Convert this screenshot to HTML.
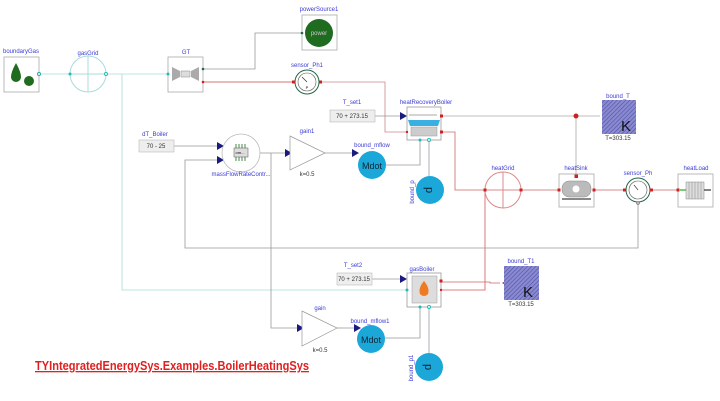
<!DOCTYPE html>
<html><head><meta charset="utf-8"><style>
html,body{margin:0;padding:0;background:#fff;width:720px;height:401px;overflow:hidden}
svg{display:block}
text{font-family:"Liberation Sans",sans-serif}
.lbl{fill:#3b3bd6;font-size:6px;text-anchor:middle}
.sm{fill:#333;font-size:6px;text-anchor:middle}
</style></head><body>
<svg width="720" height="401" viewBox="0 0 720 401" xmlns="http://www.w3.org/2000/svg">
<defs>
<pattern id="h" width="3" height="3" patternUnits="userSpaceOnUse" patternTransform="rotate(45)">
<rect width="3" height="3" fill="#8a8ad0"/><line x1="0" y1="0" x2="0" y2="3" stroke="#5050a8" stroke-width="1.2"/></pattern>
</defs>
<g fill="none" stroke-width="0.8">
<polyline stroke="#a8dcd8" points="39,74 168,74"/>
<polyline stroke="#a8dcd8" points="122,74 122,290 407,290"/>
<polyline stroke="#999" points="203,69 255,69 255,33 302,33"/>
<polyline stroke="#c44" points="203,82 295,82"/>
<polyline stroke="#c88" points="319,82 385,82 385,132 407,132"/>
<polyline stroke="#999" points="375,116 400,116"/>
<polyline stroke="#aaa" points="441,116 600,116"/>
<polyline stroke="#aaa" points="576,116 576,176"/>
<polyline stroke="#c66" points="441,132 455,132 455,190 485,190"/>
<polyline stroke="#c66" points="521,190 559,190"/>
<polyline stroke="#c66" points="594,190 626,190"/>
<polyline stroke="#c66" points="650,190 678,190"/>
<polyline stroke="#d55" points="485,190 485,290 441,290"/>
<polyline stroke="#c66" points="441,282 490,282 490,283 500,283"/>
<polyline stroke="#999" points="638,202 638,248 185,248 185,160 217,160"/>
<polyline stroke="#999" points="174,146 217,146"/>
<polyline stroke="#999" points="260,153 285,153"/>
<polyline stroke="#999" points="271,153 271,328 300,328"/>
<polyline stroke="#999" points="325,153 352,153"/>
<polyline stroke="#999" points="337,328 354,328"/>
<polyline stroke="#999" points="386,165 420,165 420,140"/>
<polyline stroke="#99a" points="429,140 429,176"/>
<polyline stroke="#999" points="372,279 400,279"/>
<polyline stroke="#999" points="385,338 420,338 420,307"/>
<polyline stroke="#99a" points="429,307 429,353"/>
</g>
<g fill="#1a1a80">
<polygon points="217,142 224,146 217,150"/><polygon points="217,156 224,160 217,164"/>
<polygon points="285,149 292,153 285,157"/><polygon points="352,149 359,153 352,157"/>
<polygon points="400,112 407,116 400,120"/><polygon points="400,275 407,279 400,283"/>
<polygon points="297,324 304,328 297,332"/><polygon points="354,324 361,328 354,332"/>
</g>
<polygon points="604,116 611,112 611,120" fill="#c22"/>
<polygon points="502,283 509,279 509,287" fill="#c22"/>
<text class="lbl" x="21" y="53">boundaryGas</text>
<rect x="4" y="57" width="35" height="35" fill="#fff" stroke="#aaa" stroke-width="0.8"/>
<path d="M16,63 Q11,72 11,77 A5,5 0 0 0 21,77 Q21,72 16,63Z" fill="#1f6b1f"/>
<circle cx="29" cy="81" r="5" fill="#1f6b1f"/>
<circle cx="39" cy="74" r="1.5" fill="#fff" stroke="#2aa"/>
<text class="lbl" x="88" y="55">gasGrid</text>
<circle cx="88" cy="74" r="18" fill="#fff" stroke="#a8dcd8"/>
<line x1="70" y1="74" x2="106" y2="74" stroke="#a8dcd8"/><line x1="88" y1="56" x2="88" y2="92" stroke="#a8dcd8"/>
<circle cx="70" cy="74" r="1.5" fill="#2bb"/><circle cx="106" cy="74" r="1.5" fill="#fff" stroke="#2bb"/>
<text class="lbl" x="186" y="54">GT</text>
<rect x="168" y="57" width="35" height="35" fill="#fff" stroke="#aaa" stroke-width="0.8"/>
<polygon points="172,67 180,71 180,77 172,81" fill="#aaa"/><polygon points="199,67 191,71 191,77 199,81" fill="#aaa"/>
<rect x="181" y="71" width="9" height="6" fill="#ddd" stroke="#888" stroke-width="0.5"/>
<circle cx="168" cy="74" r="1.5" fill="#2bb"/><circle cx="203" cy="69" r="1.3" fill="#265"/><circle cx="203" cy="82" r="1.3" fill="#c22"/>
<text class="lbl" x="319" y="11">powerSource1</text>
<rect x="302" y="15" width="35" height="35" fill="#fff" stroke="#aaa" stroke-width="0.8"/>
<circle cx="319" cy="33" r="14" fill="#1f6b1f"/>
<text x="319" y="35" fill="#ccc" font-size="6" text-anchor="middle">power</text>
<circle cx="302" cy="33" r="1.3" fill="#265"/>
<text class="lbl" x="307" y="67">sensor_Ph1</text>
<circle cx="307" cy="82" r="12" fill="#fff" stroke="#264" stroke-width="1"/>
<circle cx="307" cy="82" r="9" fill="#fff" stroke="#555" stroke-width="0.6"/>
<line x1="307" y1="82" x2="302" y2="77" stroke="#333" stroke-width="0.7"/>
<text x="307" y="89" font-size="4" text-anchor="middle">P</text>
<rect x="292" y="80.5" width="3" height="3" fill="#c22"/><rect x="319" y="80.5" width="3" height="3" fill="#c22"/>
<text class="lbl" x="352" y="104">T_set1</text>
<rect x="330" y="110" width="45" height="12" fill="#eee" stroke="#bbb" stroke-width="0.6"/>
<text class="sm" x="352" y="118">70 + 273.15</text>
<text class="lbl" x="426" y="104">heatRecoveryBoiler</text>
<rect x="407" y="107" width="34" height="33" fill="#fff" stroke="#999" stroke-width="0.8"/>
<line x1="409" y1="115" x2="437" y2="115" stroke="#555" stroke-width="0.5"/>
<path d="M408,120 L440,120 L438,126 L410,126Z" fill="#3ab0e0"/>
<rect x="411" y="127" width="26" height="9" fill="#ccc" stroke="#999" stroke-width="0.5"/>
<rect x="440" y="114.5" width="3" height="3" fill="#c22"/><rect x="440" y="130.5" width="3" height="3" fill="#c22"/>
<circle cx="407" cy="132" r="1.2" fill="#c22"/><circle cx="420" cy="140" r="1.5" fill="#2bb"/><circle cx="429" cy="140" r="1.5" fill="#fff" stroke="#2bb"/>
<text class="lbl" x="618" y="98">bound_T</text>
<rect x="602" y="100" width="34" height="34" fill="url(#h)"/>
<text x="626" y="131" font-size="15" fill="#111" text-anchor="middle">K</text>
<text class="sm" x="618" y="140">T=303.15</text>
<circle cx="576" cy="116" r="2.5" fill="#c22"/>
<text class="lbl" x="155" y="136">dT_Boiler</text>
<rect x="139" y="140" width="35" height="12" fill="#eee" stroke="#bbb" stroke-width="0.6"/>
<text class="sm" x="156" y="148">70 - 25</text>
<circle cx="241" cy="153" r="19" fill="#fff" stroke="#bbb" stroke-width="0.8"/>
<rect x="234" y="148" width="14" height="9" fill="#ddd" stroke="#555" stroke-width="0.5"/>
<g stroke="#1a6b1a" stroke-width="0.8"><line x1="236" y1="144" x2="236" y2="148"/><line x1="239" y1="144" x2="239" y2="148"/><line x1="242" y1="144" x2="242" y2="148"/><line x1="245" y1="144" x2="245" y2="148"/><line x1="236" y1="157" x2="236" y2="161"/><line x1="239" y1="157" x2="239" y2="161"/><line x1="242" y1="157" x2="242" y2="161"/><line x1="245" y1="157" x2="245" y2="161"/></g>
<text x="240" y="154" font-size="4" text-anchor="middle">om...</text>
<text class="lbl" x="241" y="176">massFlowRateContr...</text>
<text class="lbl" x="307" y="133">gain1</text>
<polygon points="290,136 325,153 290,170" fill="#fff" stroke="#999" stroke-width="0.7"/>
<text class="sm" x="307" y="176">k=0.5</text>
<text class="lbl" x="372" y="147">bound_mflow</text>
<circle cx="372" cy="165" r="14" fill="#1ba8d8"/><text x="372" y="169" font-size="9" text-anchor="middle" fill="#123">Mdot</text>
<circle cx="430" cy="190" r="14" fill="#1ba8d8"/><text x="430" y="194" font-size="11" text-anchor="middle" fill="#123" transform="rotate(90 430 190)">p</text>
<text class="lbl" x="0" y="0" transform="translate(414,192) rotate(-90)">bound_p</text>
<text class="lbl" x="503" y="170">heatGrid</text>
<circle cx="503" cy="190" r="18" fill="#fff" stroke="#d88"/>
<line x1="485" y1="190" x2="521" y2="190" stroke="#d88"/><line x1="503" y1="172" x2="503" y2="208" stroke="#d88"/>
<rect x="483.5" y="188.5" width="3" height="3" fill="#c22"/><rect x="519.5" y="188.5" width="3" height="3" fill="#c22"/>
<text class="lbl" x="576" y="170">heatSink</text>
<rect x="559" y="174" width="35" height="33" fill="#fff" stroke="#aaa" stroke-width="0.8"/>
<rect x="562" y="181" width="29" height="16" rx="7" fill="#bbb" stroke="#888" stroke-width="0.5"/>
<circle cx="576" cy="189" r="3.5" fill="#fff"/>
<rect x="562" y="198" width="29" height="2" fill="#888"/>
<rect x="574.5" y="174.5" width="3.5" height="3.5" fill="#c22"/>
<rect x="557.5" y="188.5" width="3" height="3" fill="#c22"/><rect x="592.5" y="188.5" width="3" height="3" fill="#c22"/>
<text class="lbl" x="638" y="175">sensor_Ph</text>
<circle cx="638" cy="190" r="12" fill="#fff" stroke="#264" stroke-width="1"/>
<circle cx="638" cy="190" r="9" fill="#fff" stroke="#555" stroke-width="0.6"/>
<line x1="638" y1="190" x2="634" y2="185" stroke="#333" stroke-width="0.7"/>
<rect x="623" y="188.5" width="3" height="3" fill="#c22"/><rect x="650" y="188.5" width="3" height="3" fill="#c22"/>
<circle cx="638" cy="203" r="1.3" fill="#fff" stroke="#777"/>
<text class="lbl" x="696" y="170">heatLoad</text>
<rect x="678" y="174" width="35" height="33" fill="#fff" stroke="#aaa" stroke-width="0.8"/>
<rect x="686" y="182" width="18" height="17" fill="#ddd" stroke="#888" stroke-width="0.5"/>
<g stroke="#888" stroke-width="0.5"><line x1="689" y1="182" x2="689" y2="199"/><line x1="692" y1="182" x2="692" y2="199"/><line x1="695" y1="182" x2="695" y2="199"/><line x1="698" y1="182" x2="698" y2="199"/><line x1="701" y1="182" x2="701" y2="199"/></g>
<line x1="680" y1="190" x2="686" y2="190" stroke="#2a2" stroke-width="1.2"/><line x1="704" y1="190" x2="711" y2="190" stroke="#333" stroke-width="1.2"/>
<rect x="676.5" y="188.5" width="3" height="3" fill="#c22"/>
<text class="lbl" x="353" y="267">T_set2</text>
<rect x="337" y="273" width="35" height="12" fill="#eee" stroke="#bbb" stroke-width="0.6"/>
<text class="sm" x="354" y="281">70 + 273.15</text>
<text class="lbl" x="422" y="271">gasBoiler</text>
<rect x="407" y="273" width="34" height="34" fill="#fff" stroke="#999" stroke-width="0.8"/>
<rect x="412" y="276" width="25" height="27" fill="#ddd" stroke="#999" stroke-width="0.5"/>
<path d="M424,281 Q430,288 428,294 Q424,298 420,294 Q418,288 424,281Z" fill="#f07a20"/>
<rect x="439.5" y="279.5" width="3" height="3" fill="#c22"/><circle cx="441" cy="290" r="1.2" fill="#c22"/>
<circle cx="407" cy="290" r="1.5" fill="#2bb"/><circle cx="420" cy="307" r="1.5" fill="#2bb"/><circle cx="429" cy="307" r="1.5" fill="#fff" stroke="#2bb"/>
<text class="lbl" x="521" y="263">bound_T1</text>
<rect x="504" y="266" width="35" height="34" fill="url(#h)"/>
<text x="528" y="297" font-size="15" fill="#111" text-anchor="middle">K</text>
<text class="sm" x="521" y="306">T=303.15</text>
<text class="lbl" x="320" y="310">gain</text>
<polygon points="302,311 337,328 302,346" fill="#fff" stroke="#999" stroke-width="0.7"/>
<text class="sm" x="320" y="352">k=0.5</text>
<text class="lbl" x="370" y="323">bound_mflow1</text>
<circle cx="371" cy="339" r="14" fill="#1ba8d8"/><text x="371" y="343" font-size="9" text-anchor="middle" fill="#123">Mdot</text>
<circle cx="429" cy="367" r="14" fill="#1ba8d8"/><text x="429" y="371" font-size="11" text-anchor="middle" fill="#123" transform="rotate(90 429 367)">p</text>
<text class="lbl" x="0" y="0" transform="translate(413,368) rotate(-90)">bound_p1</text>
<text x="35" y="370" font-family="Liberation Serif,serif" font-weight="bold" font-size="13" fill="#e02020" text-decoration="underline" textLength="274" lengthAdjust="spacingAndGlyphs">TYIntegratedEnergySys.Examples.BoilerHeatingSys</text>
</svg>
</body></html>
